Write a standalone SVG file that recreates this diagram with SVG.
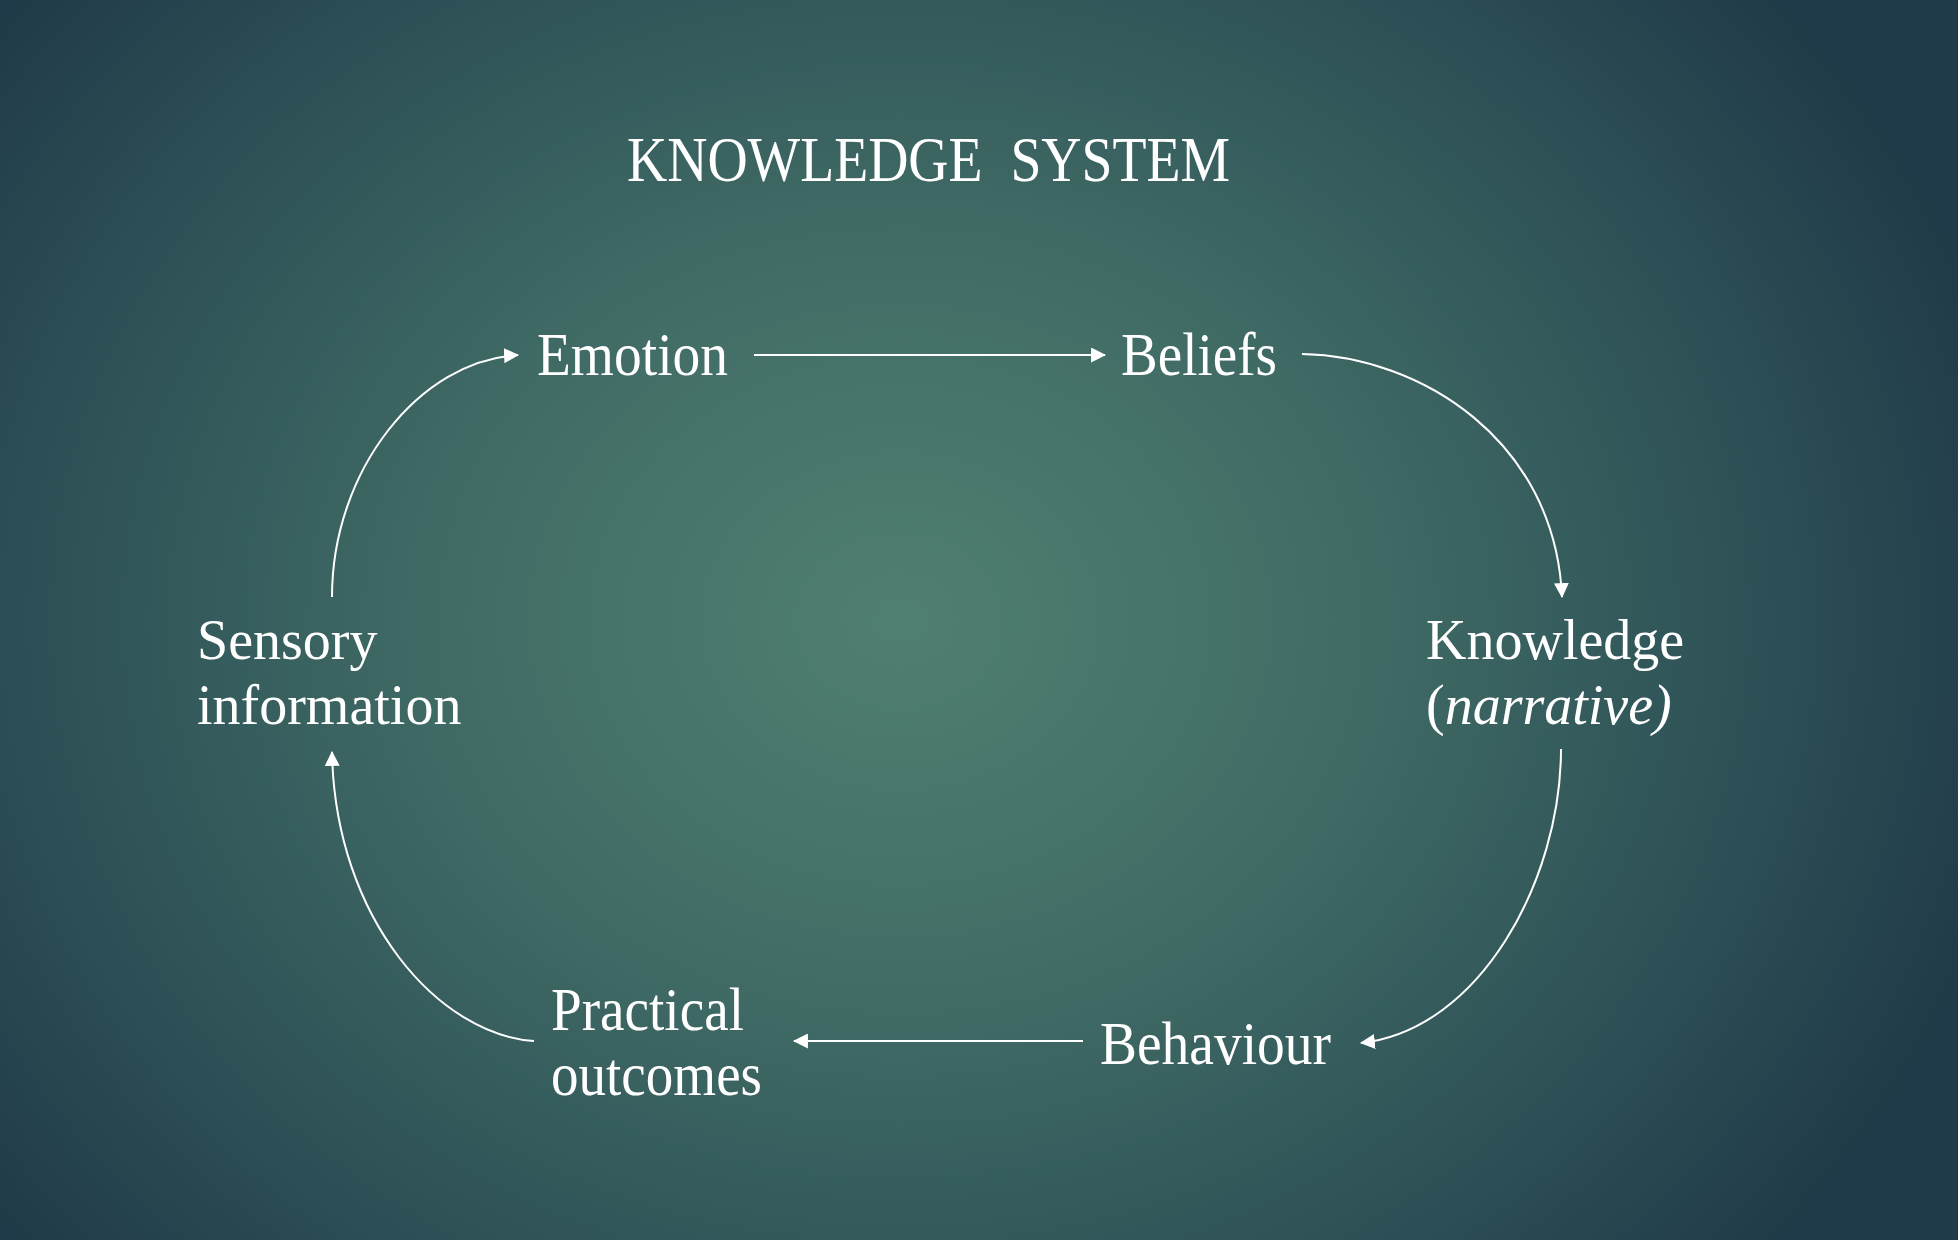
<svg xmlns="http://www.w3.org/2000/svg" width="1958" height="1240" viewBox="0 0 1958 1240">
<defs>
<radialGradient id="bg" gradientUnits="userSpaceOnUse" cx="900" cy="620" r="1150" gradientTransform="translate(900 620) scale(1 0.85) translate(-900 -620)">
<stop offset="0" stop-color="#508072"/>
<stop offset="0.4" stop-color="#406b65"/>
<stop offset="0.75" stop-color="#2d5056"/>
<stop offset="1" stop-color="#1f3a48"/>
</radialGradient>
<marker id="arr" viewBox="0 0 14 14" refX="13" refY="7" markerWidth="15" markerHeight="15" markerUnits="userSpaceOnUse" orient="auto">
<path d="M0,0 L14,7 L0,14 Z" fill="#ffffff"/>
</marker>
<style>
.t{font-family:"Liberation Serif","Times New Roman",serif;fill:#ffffff}
.c{fill:none;stroke:#ffffff;stroke-width:2;marker-end:url(#arr)}
</style>
</defs>
<rect width="1958" height="1240" fill="url(#bg)"/>
<g id="title"><text class="t" x="627" y="181" font-size="64" textLength="603" lengthAdjust="spacingAndGlyphs" xml:space="preserve" style="white-space:pre">KNOWLEDGE  SYSTEM</text></g>
<g id="emotion"><text class="t" x="537" y="375" font-size="61" textLength="191" lengthAdjust="spacingAndGlyphs">Emotion</text></g>
<g id="beliefs"><text class="t" x="1121" y="375" font-size="61" textLength="156" lengthAdjust="spacingAndGlyphs">Beliefs</text></g>
<g id="knowledge"><text class="t" x="1426" y="659" font-size="56">Knowledge</text><text class="t" x="1426" y="724" font-size="56">(<tspan font-style="italic">narrative)</tspan></text></g>
<g id="behaviour"><text class="t" x="1100" y="1064" font-size="61" textLength="231" lengthAdjust="spacingAndGlyphs">Behaviour</text></g>
<g id="practical"><text class="t" x="551" y="1030" font-size="61" textLength="193" lengthAdjust="spacingAndGlyphs">Practical</text><text class="t" x="551" y="1095" font-size="61" textLength="211" lengthAdjust="spacingAndGlyphs">outcomes</text></g>
<g id="sensory"><text class="t" x="197" y="659" font-size="56">Sensory</text><text class="t" x="197" y="724" font-size="56">information</text></g>
<g id="connectors">
<path class="c" d="M754,355 L1105,355"/>
<path class="c" d="M1302,354 C1420,356 1555,440 1562,597"/>
<path class="c" d="M1561,749 C1561,880 1480,1030 1361,1043"/>
<path class="c" d="M1083,1041 L794,1041"/>
<path class="c" d="M534,1041 C440,1035 335,920 332,752"/>
<path class="c" d="M332,597 C332,470 420,360 518,355"/>
</g>
</svg>
